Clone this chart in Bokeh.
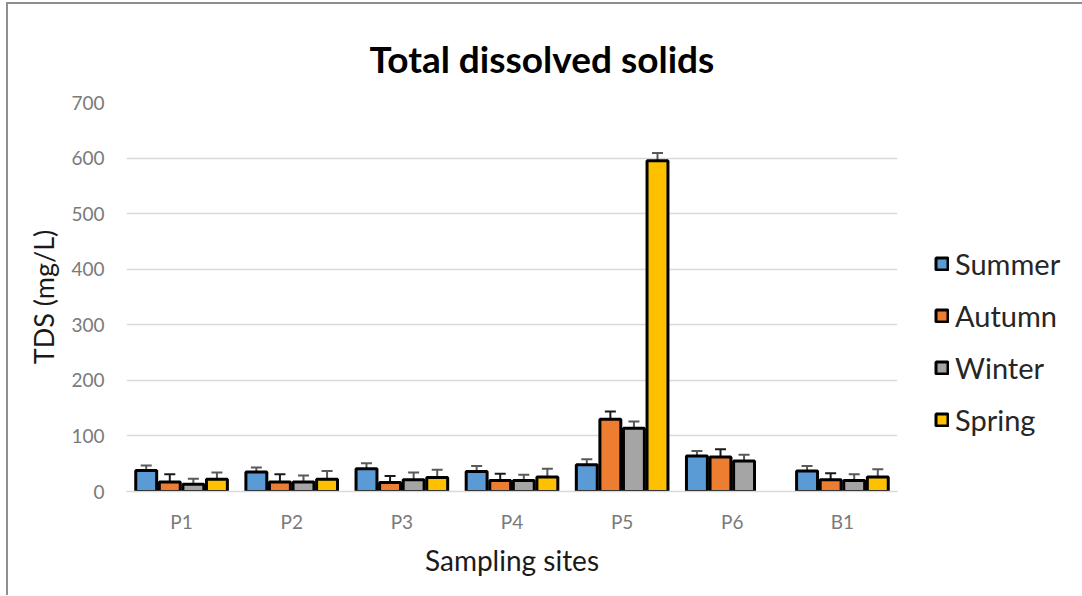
from bokeh.plotting import figure
from bokeh.models import ColumnDataSource, FactorRange, Whisker, TeeHead, Legend, LegendItem, NumeralTickFormatter
from bokeh.transform import dodge
from bokeh.embed import file_html
from bokeh.resources import INLINE

# Sampling sites and seasonal TDS means (mg/L) with their error margins
sites = ["P1", "P2", "P3", "P4", "P5", "P6", "B1"]
seasons = ["Summer", "Autumn", "Winter", "Spring"]

summer = [38, 35, 41, 36, 48, 64, 37]
autumn = [17, 17, 16, 20, 130, 62, 21]
winter = [13, 17, 21, 20, 114, 55, 20]
spring = [22, 22, 25, 26, 595, float("nan"), 26]

summer_err = [9, 8, 10, 10, 10, 9, 9]
autumn_err = [14, 14, 12, 12, 14, 14, 12]
winter_err = [10, 12, 13, 10, 12, 11, 11]
spring_err = [12, 15, 14, 15, 14, float("nan"), 14]

y_ticks = [0, 100, 200, 300, 400, 500, 600, 700]

colors = ["#5B9BD5", "#ED7D31", "#A5A5A5", "#FFC000"]
err_colors = ["#595959", "#1a1a1a", "#595959", "#595959"]
offsets = [-0.321, -0.107, 0.107, 0.321]

values = [summer, autumn, winter, spring]
errors = [summer_err, autumn_err, winter_err, spring_err]

FONT = "Lato"

p = figure(
    frame_width=771, frame_height=389,
    x_range=FactorRange(*sites), y_range=(0, 700),
    output_backend="svg", toolbar_location=None,
    min_border_left=118, min_border_right=150,
    min_border_top=98, min_border_bottom=104,
)
p.margin = (2, 0, 0, 6)
p.styles = {"border-left": "2px solid #8f8f8f", "border-top": "2px solid #8f8f8f"}
p.outline_line_color = None
p.background_fill_color = "white"
p.border_fill_color = "white"

p.title.text = "Total dissolved solids"
p.title.text_font = FONT
p.title.text_font_size = "37px"
p.title.text_font_style = "bold"
p.title.text_color = "#000000"
p.title.align = "left"
p.title.vertical_align = "top"
p.title.offset = 243
p.title.standoff = 40

renderers = []
for name, vals, errs, col, ecol, off in zip(seasons, values, errors, colors, err_colors, offsets):
    lower = [v - e for v, e in zip(vals, errs)]
    upper = [v + e for v, e in zip(vals, errs)]
    src = ColumnDataSource(dict(site=sites, val=vals, lower=lower, upper=upper))
    r = p.vbar(x=dodge("site", off, range=p.x_range), top="val", width=0.19, source=src,
               fill_color=col, line_color="#000000", line_width=3)
    renderers.append((name, r))
    w = Whisker(base=dodge("site", off, range=p.x_range), upper="upper", lower="lower",
                source=src, line_color=ecol, line_width=2,
                upper_head=TeeHead(size=11, line_color=ecol, line_width=2),
                lower_head=TeeHead(size=11, line_color=ecol, line_width=2))
    p.add_layout(w)

legend = Legend(items=[LegendItem(label=n, renderers=[r]) for n, r in renderers],
                location="top_left", orientation="vertical")
legend.title = " "
legend.title_text_font_size = "20px"
legend.title_standoff = 84
legend.border_line_color = None
legend.background_fill_alpha = 0
legend.padding = 0
legend.margin = 37
legend.spacing = 17
legend.glyph_width = 15
legend.glyph_height = 15
legend.label_height = 30
legend.label_standoff = 6
legend.label_text_font = FONT
legend.label_text_font_size = "29px"
legend.label_text_color = "#262626"
p.add_layout(legend, "right")

# axes
p.yaxis.ticker = y_ticks
p.yaxis.formatter = NumeralTickFormatter(format="0")
p.yaxis.axis_line_color = None
p.yaxis.major_tick_line_color = None
p.yaxis.minor_tick_line_color = None
p.yaxis.major_label_text_font = FONT
p.yaxis.major_label_text_font_size = "19px"
p.yaxis.major_label_text_color = "#7a7a7a"
p.yaxis.major_label_standoff = 16
p.yaxis.axis_label = "TDS (mg/L)"
p.yaxis.axis_label_text_font = FONT
p.yaxis.axis_label_text_font_size = "27px"
p.yaxis.axis_label_text_font_style = "normal"
p.yaxis.axis_label_text_color = "#1a1a1a"
p.yaxis.axis_label_standoff = 8

p.xaxis.axis_line_color = "#d9d9d9"
p.xaxis.axis_line_width = 1.5
p.xaxis.major_tick_line_color = None
p.xaxis.minor_tick_line_color = None
p.xaxis.major_label_text_font = FONT
p.xaxis.major_label_text_font_size = "19px"
p.xaxis.major_label_text_color = "#7a7a7a"
p.xaxis.major_label_standoff = 12
p.xaxis.axis_label = "Sampling sites"
p.xaxis.axis_label_text_font = FONT
p.xaxis.axis_label_text_font_size = "28px"
p.xaxis.axis_label_text_font_style = "normal"
p.xaxis.axis_label_text_color = "#1a1a1a"
p.xaxis.axis_label_standoff = 7

p.xgrid.grid_line_color = None
p.ygrid.grid_line_color = "#d9d9d9"
p.ygrid.grid_line_width = 1.5
p.x_range.range_padding = 0
p.x_range.group_padding = 0

open("out.html", "w").write(file_html(p, INLINE))
